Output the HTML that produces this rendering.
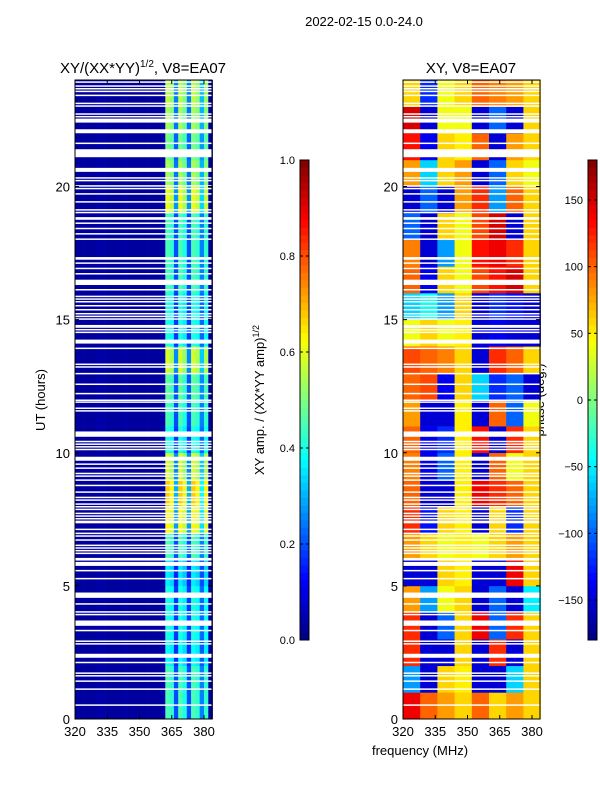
<!DOCTYPE html>
<html><head><meta charset="utf-8"><style>
body{margin:0;background:#fff;}
svg{display:block;font-family:"Liberation Sans","DejaVu Sans",sans-serif;}
</style></head><body>
<svg id="fig" width="600" height="800" viewBox="0 0 600 800">
<rect width="600" height="800" fill="#fff"/>
<text x="364" y="26" font-size="13" text-anchor="middle">2022-02-15 0.0-24.0</text>
<text x="143" y="73" font-size="15" text-anchor="middle">XY/(XX*YY)<tspan font-size="10" dy="-6">1/2</tspan><tspan dy="6">, V8=EA07</tspan></text>
<text x="471" y="73" font-size="15" text-anchor="middle">XY, V8=EA07</text>
<text transform="translate(45,400) rotate(-90)" font-size="13" text-anchor="middle">UT (hours)</text>
<text transform="translate(264,400) rotate(-90)" font-size="13" text-anchor="middle">XY amp. / (XX*YY amp)<tspan font-size="9" dy="-5">1/2</tspan></text>
<text transform="translate(544,400) rotate(-90)" font-size="13" text-anchor="middle">phase (deg.)</text>
<text x="420" y="755" font-size="13" text-anchor="middle">frequency (MHz)</text>
<g id="left"></g>
<g id="right"></g>
<g id="axes"></g>
</svg>
<script>
// flagged (white) time ranges in hours
const flagStart=[23.9,23.75,23.65,23.55,23.4,23.1,23.0,22.7,22.6,22.5,22.4,22.0,21.6,21.1,20.55,20.3,20.2,20.0,19.9,19.7,19.4,19.1,19.0,18.75,18.6,18.4,18.2,18.0,17.25,17.1,16.9,16.7,16.3,16.1,15.85,15.75,15.65,15.5,15.35,15.2,15.1,15.0,14.75,14.7,14.6,14.5,14.1,13.9,13.3,13.2,12.95,12.55,12.2,11.95,11.9,11.65,11.55,10.6,10.4,10.3,10.2,10.1,9.7,9.55,9.4,9.2,9.1,8.95,8.75,8.5,8.3,8.2,8.05,7.95,7.85,7.7,7.6,7.5,7.35,7.1,6.95,6.85,6.7,6.5,6.4,6.3,6.2,5.95,5.75,5.55,5.25,4.55,4.3,4.0,3.9,3.5,3.3,2.9,2.8,2.3,2.1,1.7,1.6,1.4,1.1,0.5];
const flagEnd=  [23.95,23.8,23.7,23.6,23.45,23.15,23.05,22.75,22.65,22.55,22.5,22.15,21.65,21.4,20.7,20.35,20.25,20.05,19.95,19.75,19.45,19.15,19.05,18.85,18.65,18.45,18.25,18.05,17.35,17.15,16.95,16.75,16.5,16.15,15.9,15.8,15.7,15.55,15.4,15.25,15.15,15.05,14.8,14.75,14.65,14.55,14.25,13.95,13.35,13.25,13.0,12.6,12.25,12.0,11.93,11.7,11.6,10.8,10.45,10.35,10.25,10.15,9.85,9.6,9.45,9.25,9.15,9.0,8.8,8.55,8.35,8.25,8.1,8.0,7.9,7.75,7.65,7.55,7.45,7.15,7.0,6.9,6.75,6.55,6.45,6.35,6.25,6.05,5.9,5.6,5.3,4.75,4.35,4.05,3.95,3.7,3.35,2.95,2.85,2.45,2.15,1.75,1.65,1.45,1.15,0.55];
// amplitude: frequency profile (2 MHz bins, 320-384) and hourly scale
const ampFreqBins=[320,322,324,326,328,330,332,334,336,338,340,342,344,346,348,350,352,354,356,358,360,362,364,366,368,370,372,374,376,378,380,382];
const ampProfile=[0.03,0.03,0.03,0.03,0.03,0.04,0.04,0.03,0.03,0.03,0.03,0.04,0.03,0.03,0.03,0.03,0.03,0.03,0.03,0.03,0.04,0.45,0.42,0.2,0.45,0.4,0.2,0.45,0.42,0.25,0.42,0.04];
const ampHourScale=[1.0,1.0,0.85,0.9,0.9,0.8,1.0,1.4,1.5,1.3,0.9,1.0,1.05,1.3,0.9,0.9,1.0,1.0,1.0,1.35,1.2,1.1,1.2,1.25];
// phase: hourly bands (hour 0..23), 8 frequency bins of 8 MHz
const phaseFreqBins=[320,328,336,344,352,360,368,376];
const phase=[
[140,100,80,60,100,60,80,60],
[-80,-150,60,50,-150,-150,-60,60],
[120,-150,-150,60,-150,120,-150,60],
[120,-150,-100,60,140,-100,120,60],
[80,-80,40,60,-150,-100,-150,-50],
[-150,-150,60,50,-150,-150,140,60],
[80,60,40,50,40,60,80,60],
[120,-130,60,50,-150,60,-120,60],
[100,-150,-150,50,140,120,100,60],
[90,-140,-100,50,-150,100,40,60],
[100,-140,-120,50,130,-150,120,60],
[80,-150,-150,50,-150,100,-100,40],
[100,110,-140,60,-60,-120,-100,-150],
[110,100,90,60,-150,120,100,60],
[40,60,40,50,-150,-140,-150,-150],
[-60,-40,-80,60,-150,-120,-130,-150],
[100,-140,60,40,110,130,150,60],
[90,-150,-80,40,130,140,120,60],
[-100,-150,60,40,110,150,-150,60],
[-150,-100,-150,80,120,-80,100,60],
[80,-60,60,80,-150,-100,60,40],
[130,-140,60,50,100,-150,80,60],
[150,-150,40,40,-150,-100,-150,60],
[60,-120,40,60,100,90,80,60]];
const xTicks=[320,335,350,365,380];
const yTicks=[0,5,10,15,20];
const ampTicks=[0.0,0.2,0.4,0.6,0.8,1.0];
const phaseTicks=[-150,-100,-50,0,50,100,150];

const NS="http://www.w3.org/2000/svg";
function jet(v){v=Math.max(0,Math.min(1,v));
 const r=Math.max(0,Math.min(1,Math.min(4*v-1.5,-4*v+4.5)));
 const g=Math.max(0,Math.min(1,Math.min(4*v-0.5,-4*v+3.5)));
 const b=Math.max(0,Math.min(1,Math.min(4*v+0.5,-4*v+2.5)));
 return `rgb(${Math.round(r*255)},${Math.round(g*255)},${Math.round(b*255)})`;}
function mk(tag,attrs,parent){const e=document.createElementNS(NS,tag);for(const k in attrs)e.setAttribute(k,attrs[k]);parent.appendChild(e);return e;}
const Y0=719,Y1=80;
function yS(h){return Y0-(h/24)*(Y0-Y1);}
function xL(f){return 75+(f-320)*(204-75)/60;}
function xR(f){return 403+(f-320)*(532-403)/60;}
const PW=137;
const left=document.getElementById('left'),right=document.getElementById('right'),axes=document.getElementById('axes');
for(let h=0;h<24;h++){
 for(let i=0;i<ampFreqBins.length;i++){
  const f0=ampFreqBins[i],f1=f0+2;
  const v=ampProfile[i]*(i>20&&i<31?ampHourScale[h]:1);
  const r=mk('rect',{x:xL(f0),y:yS(h+1),width:xL(f1)-xL(f0)+0.3,height:yS(h)-yS(h+1)+0.3,fill:jet(v)},left);
  
  
 }
 for(let i=0;i<phaseFreqBins.length;i++){
  const f0=phaseFreqBins[i],f1=f0+8;
  const v=(phase[h][i]+180)/360;
  const r=mk('rect',{x:xR(f0),y:yS(h+1),width:xR(f1)-xR(f0)+0.3,height:yS(h)-yS(h+1)+0.3,fill:jet(v)},right);
  
  
 }
}
for(let k=0;k<flagStart.length;k++){
 for(const [g,x0] of [[left,75],[right,403]]){
  const r=mk('rect',{x:x0,y:yS(flagEnd[k]),width:PW,height:Math.max(1.5,yS(flagStart[k])-yS(flagEnd[k])),fill:'#fff'},g);
  
  
 }
}
for(const [x0,xf] of [[75,xL],[403,xR]]){
 const fr=mk('rect',{x:x0,y:Y1,width:PW,height:Y0-Y1,fill:'none',stroke:'#000','stroke-width':1},axes);
 
 
 for(const t of xTicks){const x=xf(t);
  mk('line',{x1:x,y1:Y0,x2:x,y2:Y0-4,stroke:'#000'},axes);
  mk('line',{x1:x,y1:Y1,x2:x,y2:Y1+4,stroke:'#000'},axes);
  const tx=mk('text',{x:x,y:Y0+17,'font-size':13,'text-anchor':'middle'},axes);tx.textContent=t;
  
  }
 for(const t of yTicks){const y=yS(t);
  mk('line',{x1:x0,y1:y,x2:x0+4,y2:y,stroke:'#000'},axes);
  mk('line',{x1:x0+PW,y1:y,x2:x0+PW-4,y2:y,stroke:'#000'},axes);
  const tx=mk('text',{x:x0-5,y:y+5,'font-size':13,'text-anchor':'end'},axes);tx.textContent=t;
  
  }
}
function cbar(x,ticks,lo,hi,name){
 const g=mk('g',{},axes);
 
 
 const n=64;
 for(let i=0;i<n;i++){mk('rect',{x:x,y:160+(480/n)*(n-1-i),width:9,height:480/n+0.4,fill:jet((i+0.5)/n)},g);}
 mk('rect',{x:x,y:160,width:9,height:480,fill:'none',stroke:'#000'},g);
 for(const t of ticks){const y=640-(t-lo)/(hi-lo)*480;
  mk('line',{x1:x,y1:y,x2:x+3,y2:y,stroke:'#000'},g);
  mk('line',{x1:x+9,y1:y,x2:x+6,y2:y,stroke:'#000'},g);
  const tx=mk('text',{x:x-5,y:y+4,'font-size':11,'text-anchor':'end'},g);
  tx.textContent=(lo===0?t.toFixed(1):String(t).replace('-','\u2212'));
  
  }
}
cbar(300,ampTicks,0,1,'amp-colorbar');
cbar(588,phaseTicks,-180,180,'phase-colorbar');
</script>
</body></html>
